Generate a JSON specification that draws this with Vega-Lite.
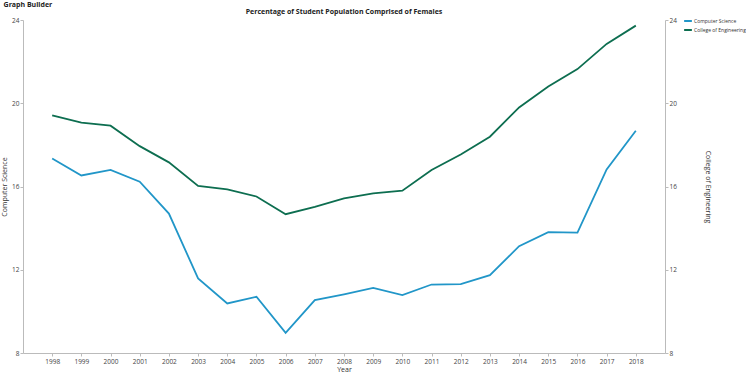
{
  "$schema": "https://vega.github.io/schema/vega-lite/v6.json",
  "background": "white",
  "padding": {"left": 0, "top": 1, "right": 0, "bottom": 0},
  "title": {"text": "Graph Builder", "anchor": "start", "frame": "bounds", "fontSize": 7, "fontWeight": "bold", "font": "Open Sans", "color": "#222", "offset": 0, "dx": 3},
  "config": {
    "font": "Open Sans",
    "view": {"stroke": null},
    "axis": {"labelFont": "Open Sans", "titleFont": "Open Sans", "labelFontSize": 6.5, "titleFontSize": 7, "labelColor": "#444", "titleColor": "#333", "titleFontWeight": "normal", "domainColor": "#bbb", "tickColor": "#bbb", "grid": false}
  },
  "datasets": {
    "rows": [
      {"Year": "1998", "Series": "Computer Science", "Value": 17.35},
      {"Year": "1999", "Series": "Computer Science", "Value": 16.53},
      {"Year": "2000", "Series": "Computer Science", "Value": 16.8},
      {"Year": "2001", "Series": "Computer Science", "Value": 16.23},
      {"Year": "2002", "Series": "Computer Science", "Value": 14.7},
      {"Year": "2003", "Series": "Computer Science", "Value": 11.58},
      {"Year": "2004", "Series": "Computer Science", "Value": 10.38},
      {"Year": "2005", "Series": "Computer Science", "Value": 10.7},
      {"Year": "2006", "Series": "Computer Science", "Value": 8.97},
      {"Year": "2007", "Series": "Computer Science", "Value": 10.54},
      {"Year": "2008", "Series": "Computer Science", "Value": 10.82},
      {"Year": "2009", "Series": "Computer Science", "Value": 11.13},
      {"Year": "2010", "Series": "Computer Science", "Value": 10.78},
      {"Year": "2011", "Series": "Computer Science", "Value": 11.29},
      {"Year": "2012", "Series": "Computer Science", "Value": 11.31},
      {"Year": "2013", "Series": "Computer Science", "Value": 11.74},
      {"Year": "2014", "Series": "Computer Science", "Value": 13.13},
      {"Year": "2015", "Series": "Computer Science", "Value": 13.81},
      {"Year": "2016", "Series": "Computer Science", "Value": 13.78},
      {"Year": "2017", "Series": "Computer Science", "Value": 16.82},
      {"Year": "2018", "Series": "Computer Science", "Value": 18.68},
      {"Year": "1998", "Series": "College of Engineering", "Value": 19.42},
      {"Year": "1999", "Series": "College of Engineering", "Value": 19.07},
      {"Year": "2000", "Series": "College of Engineering", "Value": 18.92},
      {"Year": "2001", "Series": "College of Engineering", "Value": 17.94},
      {"Year": "2002", "Series": "College of Engineering", "Value": 17.16},
      {"Year": "2003", "Series": "College of Engineering", "Value": 16.03},
      {"Year": "2004", "Series": "College of Engineering", "Value": 15.86},
      {"Year": "2005", "Series": "College of Engineering", "Value": 15.52},
      {"Year": "2006", "Series": "College of Engineering", "Value": 14.67},
      {"Year": "2007", "Series": "College of Engineering", "Value": 15.02},
      {"Year": "2008", "Series": "College of Engineering", "Value": 15.43},
      {"Year": "2009", "Series": "College of Engineering", "Value": 15.67},
      {"Year": "2010", "Series": "College of Engineering", "Value": 15.8},
      {"Year": "2011", "Series": "College of Engineering", "Value": 16.79},
      {"Year": "2012", "Series": "College of Engineering", "Value": 17.54},
      {"Year": "2013", "Series": "College of Engineering", "Value": 18.39},
      {"Year": "2014", "Series": "College of Engineering", "Value": 19.8},
      {"Year": "2015", "Series": "College of Engineering", "Value": 20.8},
      {"Year": "2016", "Series": "College of Engineering", "Value": 21.64},
      {"Year": "2017", "Series": "College of Engineering", "Value": 22.85},
      {"Year": "2018", "Series": "College of Engineering", "Value": 23.73}
    ]
  },
  "vconcat": [
    {
      "title": {"text": "Percentage of Student Population Comprised of Females", "fontSize": 7, "fontWeight": "bold", "color": "#222", "offset": 2, "anchor": "middle"},
      "width": 642,
      "height": 333,
      "data": {"name": "rows"},
      "layer": [
        {
          "transform": [{"filter": "datum.Series === 'Computer Science'"}],
          "mark": {"type": "line", "strokeWidth": 1.8},
          "encoding": {
            "x": {"field": "Year", "type": "ordinal", "scale": {"type": "point", "padding": 1}, "axis": {"title": "Year", "labelAngle": 0, "titlePadding": 1, "labelPadding": 2, "tickSize": 3, "domainColor": "#bbb"}},
            "y": {"field": "Value", "type": "quantitative", "scale": {"domain": [8, 24], "nice": false}, "axis": {"title": "Computer Science", "values": [8, 12, 16, 20, 24], "tickSize": 3, "labelPadding": 1, "titlePadding": 4}},
            "color": {"field": "Series", "type": "nominal", "scale": {"domain": ["Computer Science", "College of Engineering"], "range": ["#2196c8", "#0d6e50"]}, "legend": {"title": null, "orient": "none", "legendX": 660, "legendY": -4, "symbolType": "stroke", "symbolStrokeWidth": 2, "symbolSize": 60, "labelFontSize": 5, "labelColor": "#333", "rowPadding": 0, "labelOffset": 1, "padding": 0}}
          }
        },
        {
          "transform": [{"filter": "datum.Series === 'College of Engineering'"}],
          "mark": {"type": "line", "strokeWidth": 1.8},
          "encoding": {
            "x": {"field": "Year", "type": "ordinal", "scale": {"type": "point", "padding": 1}},
            "y": {"field": "Value", "type": "quantitative", "scale": {"domain": [8, 24], "nice": false}, "axis": {"title": "College of Engineering", "orient": "right", "values": [8, 12, 16, 20, 24], "tickSize": 3, "labelPadding": 1, "titlePadding": 28, "titleAngle": 90}},
            "color": {"field": "Series", "type": "nominal"}
          }
        }
      ],
      "resolve": {"scale": {"y": "independent"}}
    }
  ]
}
